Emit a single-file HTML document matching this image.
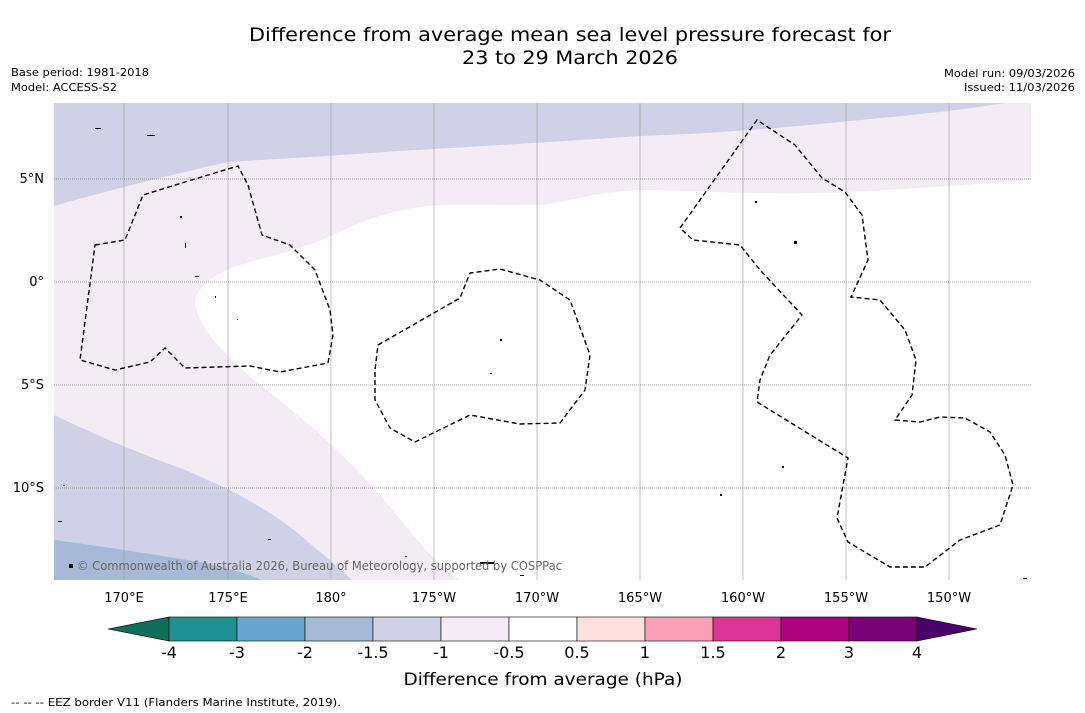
<!DOCTYPE html>
<html><head><meta charset="utf-8">
<style>
body{margin:0;background:#fff;font-family:"DejaVu Sans","Liberation Sans",sans-serif;}
svg{display:block}
</style></head>
<body>
<svg width="1085" height="713" viewBox="0 0 1085 713">
<text x="570" y="41" text-anchor="middle" font-size="19" textLength="642" lengthAdjust="spacingAndGlyphs">Difference from average mean sea level pressure forecast for</text>
<text x="570" y="64" text-anchor="middle" font-size="19" textLength="216" lengthAdjust="spacingAndGlyphs">23 to 29 March 2026</text>
<text x="11" y="76" font-size="11" textLength="138" lengthAdjust="spacingAndGlyphs">Base period: 1981-2018</text>
<text x="11" y="91" font-size="11" textLength="106" lengthAdjust="spacingAndGlyphs">Model: ACCESS-S2</text>
<text x="1075" y="77" font-size="11" text-anchor="end" textLength="131" lengthAdjust="spacingAndGlyphs">Model run: 09/03/2026</text>
<text x="1075" y="91" font-size="11" text-anchor="end" textLength="111" lengthAdjust="spacingAndGlyphs">Issued: 11/03/2026</text>

<g>
<clipPath id="mc"><rect x="54" y="103" width="977" height="477"/></clipPath>
<g clip-path="url(#mc)">
<rect x="54" y="103" width="977" height="477" fill="#f3ecf5"/>
<path d="M54,103 L1031,103 L1005,103 C950,112 900,116 840,122 C760,130 700,134 640,136 C540,143 450,148 400,151 C330,156 260,160 228,162 C170,175 110,190 54,206 Z" fill="#d0d1e6"/>
<path d="M1031,180 C960,185 900,190 846,192 C760,196 700,190 640,190 C590,192 560,205 537,205 C480,205 450,203 420,207 C380,213 350,226 331,236 C300,250 270,256 240,265 C210,275 195,290 195,305 C200,330 225,355 260,385 C300,415 340,450 380,495 C410,530 430,560 460,580 L1031,580 Z" fill="#ffffff"/>
<path d="M54,415 C90,432 130,450 180,468 C230,488 270,510 300,535 C320,552 340,568 352,580 L54,580 Z" fill="#d0d1e6"/>
<path d="M54,540 C100,546 150,554 200,562 C230,568 250,575 262,580 L54,580 Z" fill="#a6bad8"/>
</g>
<g stroke="#999" stroke-width="0.6">
<line x1="124" y1="103" x2="124" y2="580"/><line x1="228" y1="103" x2="228" y2="580"/>
<line x1="331" y1="103" x2="331" y2="580"/><line x1="434" y1="103" x2="434" y2="580"/>
<line x1="537" y1="103" x2="537" y2="580"/><line x1="640" y1="103" x2="640" y2="580"/>
<line x1="743" y1="103" x2="743" y2="580"/><line x1="846" y1="103" x2="846" y2="580"/>
<line x1="949" y1="103" x2="949" y2="580"/>
<g stroke-dasharray="1,1" stroke="#555"><line x1="54" y1="179" x2="1031" y2="179"/><line x1="54" y1="282" x2="1031" y2="282"/>
<line x1="54" y1="385" x2="1031" y2="385"/><line x1="54" y1="488" x2="1031" y2="488"/></g>
</g>
<g fill="none" stroke="#000" stroke-width="1.4" stroke-dasharray="5,3">
<path d="M95,245 L125,240 L143,195 L185,182 L238,166 L248,185 L262,235 L290,245 L315,270 L330,310 L333,335 L328,363 L280,372 L250,366 L185,368 L165,348 L150,362 L115,370 L80,360 Z"/>
<path d="M378,345 L460,298 L470,273 L500,269 L540,280 L570,300 L590,355 L585,390 L560,423 L520,424 L470,415 L415,442 L390,428 L375,400 L375,370 Z"/>
<path d="M680,228 L757,120 L795,145 L822,178 L845,192 L862,215 L868,260 L851,297 L880,300 L905,330 L916,360 L912,395 L895,420 L920,422 L940,417 L965,418 L990,432 L1005,455 L1013,485 L1000,525 L960,540 L925,567 L890,567 L848,542 L837,518 L848,458 L757,402 L760,380 L770,355 L802,315 L760,270 L740,245 L693,240 Z"/>
</g>
<g fill="#000">
<rect x="95" y="128" width="6" height="1"/><rect x="147" y="135" width="8" height="1"/><rect x="180" y="216" width="2" height="2"/>
<rect x="185" y="243" width="1" height="5"/><rect x="195" y="276" width="4" height="1"/><rect x="215" y="296" width="1" height="2"/>
<rect x="237" y="319" width="1" height="1"/><rect x="500" y="339" width="2" height="2"/><rect x="490" y="373" width="2" height="1"/>
<rect x="755" y="201" width="2" height="2"/><rect x="794" y="241" width="3" height="3"/><rect x="782" y="466" width="2" height="2"/>
<rect x="720" y="494" width="2" height="2"/><rect x="480" y="562" width="14" height="2"/><rect x="520" y="575" width="4" height="1"/>
<rect x="58" y="521" width="4" height="1"/><rect x="69" y="564" width="4" height="4"/><rect x="63" y="485" width="2" height="1"/>
<rect x="268" y="539" width="3" height="1"/><rect x="405" y="556" width="2" height="1"/><rect x="1023" y="578" width="4" height="1"/>
</g>
<text x="77" y="570" font-size="12" fill="#666" textLength="485" lengthAdjust="spacingAndGlyphs">© Commonwealth of Australia 2026, Bureau of Meteorology, supported by COSPPac</text>
<g font-size="13">
<text x="44" y="183" text-anchor="end">5°N</text><text x="44" y="286" text-anchor="end">0°</text>
<text x="44" y="389" text-anchor="end">5°S</text><text x="44" y="492" text-anchor="end">10°S</text>
</g>
<g font-size="13" text-anchor="middle">
<text x="124" y="602">170°E</text><text x="228" y="602">175°E</text><text x="331" y="602">180°</text>
<text x="434" y="602">175°W</text><text x="537" y="602">170°W</text><text x="640" y="602">165°W</text>
<text x="743" y="602">160°W</text><text x="846" y="602">155°W</text><text x="949" y="602">150°W</text>
</g>
</g>

<g id="cbar"></g>
<text x="543" y="685" text-anchor="middle" font-size="17" textLength="279" lengthAdjust="spacingAndGlyphs">Difference from average (hPa)</text>
<text x="11" y="706" font-size="11" textLength="330" lengthAdjust="spacingAndGlyphs">--  --  -- EEZ border V11 (Flanders Marine Institute, 2019).</text>
</svg>
<script>
const binLabels = ["-4","-3","-2","-1.5","-1","-0.5","0.5","1","1.5","2","3","4"];
const binColors = ["#1f9195","#67a7cf","#a6bad8","#d0d1e6","#f3ecf5","#ffffff","#fde0dd","#fa9fb5","#dd3497","#ae017e","#7a0177"];
const extendColors = ["#0f6e5c","#49006a"];
const NS="http://www.w3.org/2000/svg";
const g=document.getElementById('cbar');
const x0=169, w=68, y0=617, h=24;
function xs(i){return x0+i*w;}
function mk(t,a){const e=document.createElementNS(NS,t);for(const k in a)e.setAttribute(k,a[k]);g.appendChild(e);return e;}
let lt=mk('polygon',{points:`108,${y0+h/2} ${x0},${y0} ${x0},${y0+h}`,fill:extendColors[0],stroke:'#000','stroke-width':0.6});


const xe=xs(binColors.length);
let rt=mk('polygon',{points:`${xe},${y0} ${xe+60},${y0+h/2} ${xe},${y0+h}`,fill:extendColors[1],stroke:'#000','stroke-width':0.6});


binColors.forEach((c,i)=>{
  const r=mk('rect',{x:xs(i),y:y0,width:w,height:h,fill:c,stroke:'#000','stroke-width':0.6});
  
  
});
binLabels.forEach((l,i)=>{
  const t=mk('text',{x:xs(i),y:658,'text-anchor':'middle','font-size':16});
  t.textContent=l;
  
  
});
</script>
</body></html>
